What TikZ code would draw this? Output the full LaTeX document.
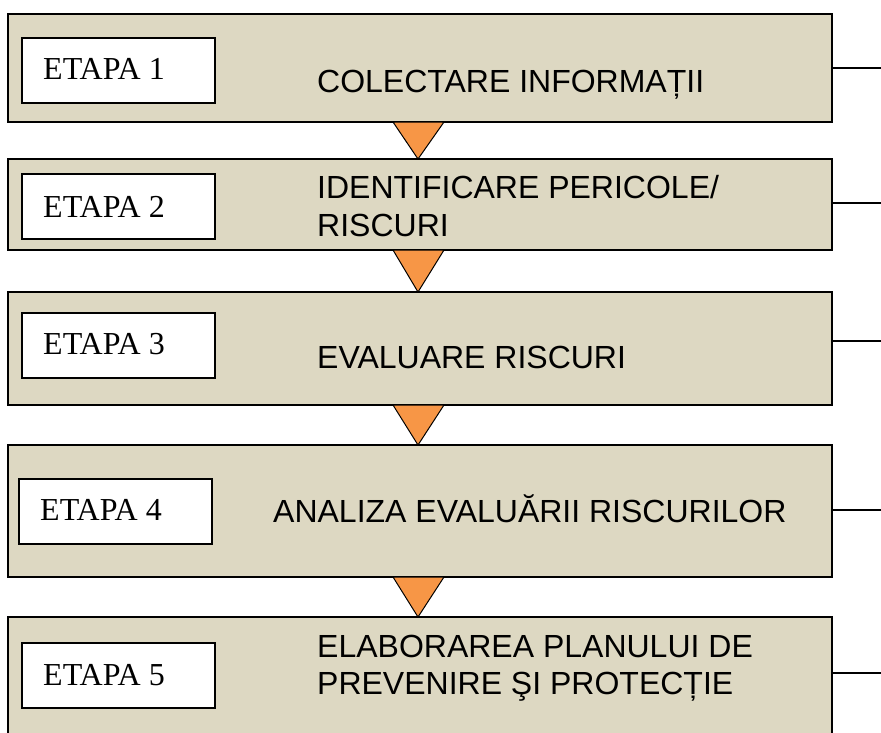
\documentclass[tikz,border=0pt]{standalone}
\usepackage{fontspec}
\setmainfont{Liberation Serif}
\newfontfamily\arialf{Liberation Sans}
\definecolor{beige}{RGB}{221,216,194}
\definecolor{orangetri}{RGB}{247,150,70}
\begin{document}
\begin{tikzpicture}[x=1pt,y=-1pt,
  outerbox/.style={draw=black, fill=beige, line width=2pt, inner sep=0pt, outer sep=0pt},
  etapabox/.style={draw=black, fill=white, line width=2pt, inner sep=0pt, outer sep=0pt, minimum width=193pt, minimum height=65pt},
  etapatext/.style={anchor=base west, inner sep=0pt, font=\fontsize{32}{36}\selectfont},
  maintext/.style={anchor=base west, inner sep=0pt, font=\arialf\fontsize{32}{36}\selectfont},
  tri/.style={fill=orangetri, draw=black, line width=1pt, line join=miter},
  sideline/.style={draw=black, line width=1.5pt}
]
\useasboundingbox (0,0) rectangle (881,732);
\clip (0,0) rectangle (881,732);
% outer boxes
\node[outerbox, minimum width=824pt, minimum height=108pt] (b1) at (420,68) {};
\node[outerbox, minimum width=824pt, minimum height=91pt] (b2) at (420,204.5) {};
\node[outerbox, minimum width=824pt, minimum height=113pt] (b3) at (420,348.5) {};
\node[outerbox, minimum width=824pt, minimum height=132pt] (b4) at (420,511) {};
\node[outerbox, minimum width=824pt, minimum height=124pt] (b5) at (420,679) {};
% inner boxes
\node[etapabox] (e1) at (118.5,70.5) {};
\node[etapabox] (e2) at (118.5,206.5) {};
\node[etapabox] (e3) at (118.5,345) {};
\node[etapabox] (e4) at (115.5,511) {};
\node[etapabox] (e5) at (118.5,675.5) {};
% etapa texts
\node[etapatext] (t1) at (43,79) {ETAPA 1};
\node[etapatext] (t2) at (43,217) {ETAPA 2};
\node[etapatext] (t3) at (43,354) {ETAPA 3};
\node[etapatext] (t4) at (40,520) {ETAPA 4};
\node[etapatext] (t5) at (43,685) {ETAPA 5};
% main texts
\node[maintext] (m1) at (317,92) {COLECTARE INFORMAȚII};
\node[maintext] (m2a) at (317,198) {IDENTIFICARE PERICOLE/};
\node[maintext] (m2b) at (317,236) {RISCURI};
\node[maintext] (m3) at (317,368) {EVALUARE RISCURI};
\node[maintext] (m4) at (273,522) {ANALIZA EVALUĂRII RISCURILOR};
\node[maintext] (m5a) at (317,657) {ELABORAREA PLANULUI DE};
\node[maintext] (m5b) at (317,694) {PREVENIRE ŞI PROTECȚIE};
% triangles between boxes
\foreach \u/\l in {b1/b2,b2/b3,b3/b4,b4/b5}{
  \path[tri] ([xshift=-27pt]\u.south) -- ([xshift=24pt]\u.south) -- ([xshift=-2pt]\l.north) -- cycle;
}
% side lines
\coordinate (r1) at (881,68);
\coordinate (r2) at (881,203);
\coordinate (r3) at (881,341);
\coordinate (r4) at (881,510);
\coordinate (r5) at (881,673);
\draw[sideline] (b1.east |- r1) -- (r1);
\draw[sideline] (b2.east |- r2) -- (r2);
\draw[sideline] (b3.east |- r3) -- (r3);
\draw[sideline] (b4.east |- r4) -- (r4);
\draw[sideline] (b5.east |- r5) -- (r5);
\end{tikzpicture}
\end{document}
